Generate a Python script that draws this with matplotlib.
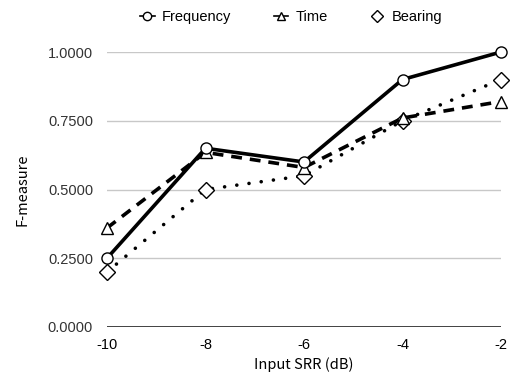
import matplotlib
matplotlib.use("Agg")
import matplotlib.pyplot as plt
from matplotlib.lines import Line2D

# data
snr = [-10, -8, -6, -4, -2]
freq = [0.25, 0.65, 0.60, 0.90, 1.00]
time_ = [0.36, 0.635, 0.58, 0.76, 0.82]
bearing = [0.20, 0.50, 0.55, 0.75, 0.90]
yticks = [0.0, 0.25, 0.5, 0.75, 1.0]
ytick_labels = ["0.0000", "0.2500", "0.5000", "0.7500", "1.0000"]

plt.rcParams['font.family'] = ['Liberation Sans', 'DejaVu Sans']

fig = plt.figure(figsize=(5.11, 3.80), dpi=100)
ax = fig.add_axes([107/511, 1 - 327/380, (501 - 107)/511, (327 - 52)/380])

# grid lines
for y in yticks[1:]:
    ax.axhline(y, color='#c8c8c8', lw=1.0, zorder=0)
ax.axhline(0, color='#333333', lw=1.3, zorder=1)

ax.plot(snr, freq, '-', color='black', lw=2.6, marker='o', ms=8,
        mfc='white', mec='black', mew=1.0, clip_on=False, zorder=5)
ax.plot(snr, time_, color='black', lw=2.6, ls=(0, (3.0, 2.2)),
        marker='^', ms=8.5, mfc='white', mec='black', mew=1.0,
        clip_on=False, zorder=4)
ax.plot(snr, bearing, color='black', lw=2.6, ls=(0, (0.01, 3.4)),
        dash_capstyle='round', marker='D', ms=8, mfc='white', mec='black',
        mew=1.0, clip_on=False, zorder=3)

ax.set_xlim(-10, -2)
ax.set_ylim(0, 1)
ax.set_xticks(snr)
ax.set_xticklabels([str(v) for v in snr], fontsize=10.5)
ax.set_yticks(yticks)
ax.set_yticklabels(ytick_labels, fontsize=10.5, color='#333333')
ax.tick_params(length=0, pad=10)
ax.tick_params(axis='x', pad=8)
for s in ax.spines.values():
    s.set_visible(False)

ax.set_xlabel("Input SRR (dB)", fontsize=10.5, family=['Noto Sans CJK KR', 'DejaVu Sans'], labelpad=4)
ax.set_ylabel("F-measure", fontsize=10.5, family=['Noto Sans CJK KR', 'DejaVu Sans'], labelpad=13)

handles = [
    Line2D([], [], color='black', lw=1.2, marker='o', ms=6, mfc='white', mec='black'),
    Line2D([], [], color='black', lw=1.2, marker='^', ms=6, mfc='white', mec='black'),
    Line2D([], [], color='black', lw=0, marker='D', ms=6, mfc='white', mec='black'),
]
fig.legend(handles, ["Frequency", "Time", "Bearing"], loc='center',
           bbox_to_anchor=(0.57, 1 - 17/380), ncol=3, frameon=False,
           fontsize=10.5, handlelength=1.0, columnspacing=2.9, handletextpad=0.5)

fig.savefig("out.png", dpi=100)
